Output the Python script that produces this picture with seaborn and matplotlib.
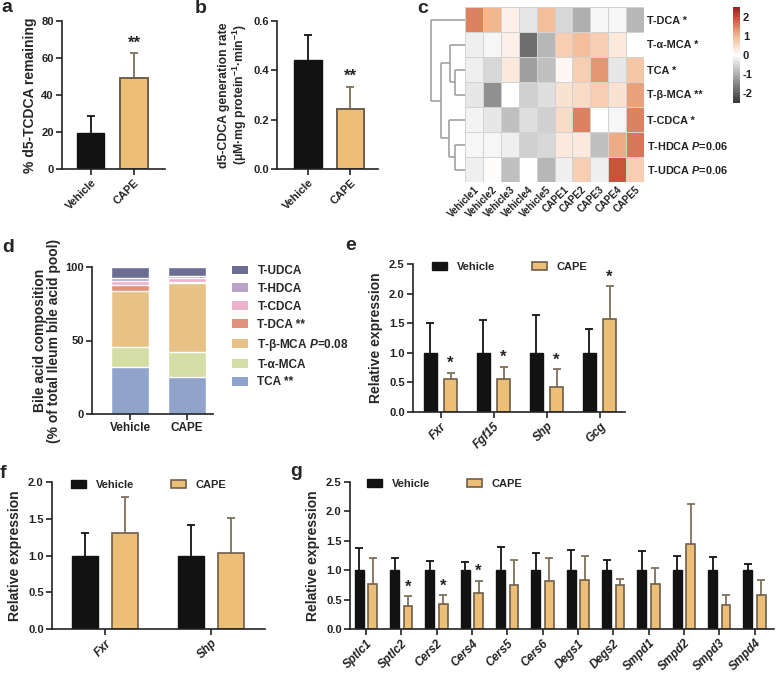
import numpy as np
import pandas as pd
import matplotlib
matplotlib.use('Agg')
import matplotlib.pyplot as plt
import seaborn as sns
from matplotlib.colors import LinearSegmentedColormap
from matplotlib.patches import Patch
from matplotlib.ticker import FormatStrFormatter

# ---------------- data ----------------
groups = ['Vehicle', 'CAPE']

# panel a
a_mean = [19.5, 49.0]
a_top = [28.5, 62.5]
# panel b
b_mean = [0.44, 0.245]
b_top = [0.545, 0.332]

# panel c (heatmap, z-scores)
heat_rows = ['T-DCA', 'T-α-MCA', 'TCA', 'T-β-MCA', 'T-CDCA', 'T-HDCA', 'T-UDCA']
heat_row_labels = ['T-DCA *', 'T-α-MCA *', 'TCA *', 'T-β-MCA **', 'T-CDCA *',
                   'T-HDCA $\\mathit{P}$=0.06', 'T-UDCA $\\mathit{P}$=0.06']
heat_cols = ['Vehicle1', 'Vehicle2', 'Vehicle3', 'Vehicle4', 'Vehicle5',
             'CAPE1', 'CAPE2', 'CAPE3', 'CAPE4', 'CAPE5']
heat_tdca = [1.5, 1.0, 0.2, -0.3, 0.9, -0.5, -1.0, -0.1, -0.1, -0.9]
heat_tamca = [-0.2, -0.1, 0.2, -1.8, -0.9, 0.7, 0.9, 0.7, 0.3, 0.0]
heat_tca = [-0.2, -0.5, 0.3, -1.2, -0.8, 0.1, 0.7, 1.3, -0.3, 0.8]
heat_tbmca = [-0.3, -1.4, 0.0, -0.6, -0.4, 0.4, 0.5, 0.7, 0.4, 1.2]
heat_tcdca = [-0.15, -0.3, -0.8, -0.4, -0.6, 0.5, 1.5, 0.0, -0.1, 1.5]
heat_thdca = [-0.1, -0.1, -0.2, -0.6, -0.5, 0.3, 0.3, -0.8, 1.1, 1.6]
heat_tudca = [-0.2, 0.05, -0.8, 0.0, -0.9, -0.2, 0.7, -0.2, 1.9, 0.7]
# row clustering: (child_i, child_j, merge height)
heat_linkage = [(2, 3, 10), (5, 6, 10), (1, 7, 15), (4, 8, 16), (9, 10, 23), (0, 11, 33)]

# panel d (stacked composition, bottom -> top)
d_species = ['TCA', 'T-α-MCA', 'T-β-MCA', 'T-DCA', 'T-CDCA', 'T-HDCA', 'T-UDCA']
d_labels = ['TCA **', 'T-α-MCA', 'T-β-MCA $\\mathit{P}$=0.08', 'T-DCA **', 'T-CDCA', 'T-HDCA', 'T-UDCA']
d_vehicle = [32.0, 13.5, 38.5, 3.5, 3.0, 2.0, 7.5]
d_cape = [25.5, 17.0, 46.3, 0.8, 3.0, 1.3, 6.1]
d_colors = ['#8FA3CB', '#D3DDA4', '#E8C187', '#E2917B', '#EDB3CC', '#B8A2C8', '#6B6D92']

# panel e
e_genes = ['Fxr', 'Fgf15', 'Shp', 'Gcg']
e_veh = [1.0, 1.0, 1.0, 1.0]
e_veh_top = [1.51, 1.55, 1.64, 1.40]
e_cape = [0.55, 0.55, 0.43, 1.57]
e_cape_top = [0.66, 0.76, 0.72, 2.12]
e_sig = ['*', '*', '*', '*']

# panel f
f_genes = ['Fxr', 'Shp']
f_veh = [1.0, 1.0]
f_veh_top = [1.31, 1.41]
f_cape = [1.31, 1.03]
f_cape_top = [1.80, 1.51]
f_sig = ['', '']

# panel g
g_genes = ['Sptlc1', 'Sptlc2', 'Cers2', 'Cers4', 'Cers5', 'Cers6',
           'Degs1', 'Degs2', 'Smpd1', 'Smpd2', 'Smpd3', 'Smpd4']
g_veh = [1.0] * 12
g_veh_top = [1.38, 1.20, 1.16, 1.14, 1.40, 1.30, 1.34, 1.18, 1.33, 1.25, 1.22, 1.10]
g_cape = [0.77, 0.39, 0.43, 0.62, 0.75, 0.82, 0.84, 0.74, 0.76, 1.44, 0.41, 0.58]
g_cape_top = [1.21, 0.56, 0.57, 0.82, 1.18, 1.21, 1.25, 0.85, 1.03, 2.13, 0.58, 0.84]
g_sig = ['', '*', '*', '*', '', '', '', '', '', '', '', '']

# ---------------- style ----------------
VEH = '#121212'
CAPE = '#EDBE78'
CAPE_EDGE = '#6E6048'
CAPE_ERR = '#7E705A'
DENDRO = '#9a9a9a'

sns.set_theme(style='ticks')
plt.rcParams.update({
    'font.family': ['Liberation Sans', 'DejaVu Sans'],
    'font.weight': 'bold',
    'axes.labelweight': 'bold',
    'axes.linewidth': 1.2,
    'axes.edgecolor': '#222222',
    'xtick.major.width': 1.2,
    'ytick.major.width': 1.2,
    'xtick.major.size': 4,
    'ytick.major.size': 4,
    'xtick.color': '#222222',
    'ytick.color': '#222222',
    'xtick.labelsize': 8,
    'ytick.labelsize': 8,
    'axes.labelsize': 10,
    'axes.unicode_minus': False,
    'mathtext.fontset': 'custom',
    'mathtext.rm': 'Liberation Sans:bold',
    'mathtext.bf': 'Liberation Sans:bold',
    'mathtext.sf': 'Liberation Sans:bold',
    'mathtext.it': 'Liberation Sans:italic:bold',
    'mathtext.default': 'bf',
})

W, H = 776, 674
fig = plt.figure(figsize=(W / 100, H / 100), dpi=100)


def ax_px(l, t, r, b):
    return fig.add_axes([l / W, 1 - b / H, (r - l) / W, (b - t) / H])


def letter(x, y, s):
    fig.text(x / W, 1 - y / H, s, fontsize=14, fontweight='bold', va='baseline', ha='left')


def style_axes(ax):
    sns.despine(ax=ax)
    ax.tick_params(axis='both', direction='out', pad=2)


def errbars(ax, container, tops, color):
    xs = [p.get_x() + p.get_width() / 2 for p in container]
    hs = [p.get_height() for p in container]
    up = [t - h for t, h in zip(tops, hs)]
    eb = ax.errorbar(xs, hs, yerr=[[0] * len(hs), up], fmt='none', ecolor=color,
                     elinewidth=1.3, capsize=3.2, capthick=1.3, zorder=1)
    caps = eb[1]
    if len(caps) == 2:
        caps[0].set_visible(False)
    return xs


def simple_bars(ax, means, tops, width):
    df = pd.DataFrame({'group': groups, 'value': means})
    sns.barplot(data=df, x='group', y='value', hue='group', hue_order=groups,
                palette={'Vehicle': VEH, 'CAPE': CAPE}, width=width, saturation=1,
                errorbar=None, legend=False, ax=ax, zorder=2)
    patches = list(ax.patches)
    patches[0].set_edgecolor(VEH)
    patches[1].set_edgecolor(CAPE_EDGE)
    patches[1].set_linewidth(1.4)
    errbars(ax, [patches[0]], [tops[0]], VEH)
    errbars(ax, [patches[1]], [tops[1]], CAPE_ERR)
    return patches


def grouped_bars(ax, genes, veh, veh_top, cape, cape_top, sig, star_off):
    n = len(genes)
    df = pd.DataFrame({'gene': genes * 2, 'group': ['Vehicle'] * n + ['CAPE'] * n,
                       'value': veh + cape})
    sns.barplot(data=df, x='gene', y='value', hue='group', hue_order=groups,
                palette={'Vehicle': VEH, 'CAPE': CAPE}, width=0.76, gap=0.34,
                saturation=1, errorbar=None, legend=False, ax=ax, zorder=2)
    cv, cc = ax.containers[0], ax.containers[1]
    for p in cv:
        p.set_edgecolor(VEH)
    for p in cc:
        p.set_edgecolor(CAPE_EDGE)
        p.set_linewidth(1.2)
    errbars(ax, cv, veh_top, VEH)
    xs = errbars(ax, cc, cape_top, CAPE_ERR)
    for x, t, s in zip(xs, cape_top, sig):
        if s:
            ax.text(x, t + star_off, s, ha='center', va='bottom', fontsize=12, fontweight='bold')
    ax.set_xlabel('')
    ax.set_ylabel('Relative expression')
    ax.yaxis.set_major_formatter(FormatStrFormatter('%.1f'))
    for lab in ax.get_xticklabels():
        lab.set_rotation(45)
        lab.set_ha('right')
        lab.set_rotation_mode('anchor')
        lab.set_fontstyle('italic')
        lab.set_fontsize(8.5)
    style_axes(ax)


def group_legend(x, y):
    handles = [Patch(facecolor=VEH, edgecolor=VEH, label='Vehicle'),
               Patch(facecolor=CAPE, edgecolor=CAPE_EDGE, linewidth=1.2, label='CAPE')]
    fig.legend(handles=handles, loc='center left', bbox_to_anchor=(x / W, 1 - y / H),
               bbox_transform=fig.transFigure, ncol=2, frameon=False, fontsize=8,
               handlelength=1.35, handleheight=0.7, handletextpad=0.9,
               columnspacing=3.3, borderpad=0, borderaxespad=0)


# ---------------- panel a ----------------
ax_a = ax_px(62, 21, 165, 169)
simple_bars(ax_a, a_mean, a_top, 0.63)
ax_a.set_xlim(-0.67, 1.72)
ax_a.set_ylim(0, 80)
ax_a.set_yticks([0, 20, 40, 60, 80])
ax_a.text(1, a_top[1] + 1.5, '**', ha='center', va='bottom', fontsize=12, fontweight='bold')
ax_a.set_xlabel('')
ax_a.set_ylabel('% d5-TCDCA remaining', labelpad=3)
for lab in ax_a.get_xticklabels():
    lab.set_rotation(45); lab.set_ha('right'); lab.set_rotation_mode('anchor')
style_axes(ax_a)
letter(1, 12, 'a')

# ---------------- panel b ----------------
ax_b = ax_px(277, 21, 378, 169)
simple_bars(ax_b, b_mean, b_top, 0.65)
ax_b.set_xlim(-0.73, 1.65)
ax_b.set_ylim(0, 0.6)
ax_b.set_yticks([0, 0.2, 0.4, 0.6])
ax_b.yaxis.set_major_formatter(FormatStrFormatter('%.1f'))
ax_b.text(1, b_top[1] + 0.012, '**', ha='center', va='bottom', fontsize=12, fontweight='bold')
ax_b.set_xlabel('')
ax_b.set_ylabel('d5-CDCA generation rate\n(μM·mg protein$^{-1}$·min$^{-1}$)', labelpad=3,
                linespacing=1.05, fontsize=8.8)
for lab in ax_b.get_xticklabels():
    lab.set_rotation(45); lab.set_ha('right'); lab.set_rotation_mode('anchor')
style_axes(ax_b)
letter(195, 13, 'b')

# ---------------- panel c ----------------
heat_df = pd.DataFrame([heat_tdca, heat_tamca, heat_tca, heat_tbmca, heat_tcdca, heat_thdca, heat_tudca],
                       index=heat_rows, columns=heat_cols)
cmap = LinearSegmentedColormap.from_list('og', [(0.0, '#363636'), (0.25, '#9c9c9c'), (0.5, '#ffffff'),
                                                (0.7, '#F3B890'), (0.88, '#C9563A'), (1.0, '#9E1B20')])
ax_c = ax_px(465, 7, 644, 182)
cax = ax_px(733, 7, 740, 103)
sns.heatmap(heat_df, ax=ax_c, cmap=cmap, vmin=-2.5, vmax=2.5, cbar_ax=cax,
            linewidths=0.7, linecolor='#d2d2d2')
ax_c.yaxis.tick_right()
ax_c.set_yticks(np.arange(len(heat_rows)) + 0.5)
ax_c.set_yticklabels(heat_row_labels, rotation=0, fontsize=7.8, fontweight='bold')
ax_c.set_xticks(np.arange(len(heat_cols)) + 0.5)
ax_c.set_xticklabels(heat_cols, rotation=45, ha='right', rotation_mode='anchor', fontsize=7)
ax_c.tick_params(length=0, pad=2)
ax_c.set_xlabel(''); ax_c.set_ylabel('')
cbar = ax_c.collections[0].colorbar
cbar.set_ticks([-2, -1, 0, 1, 2])
cbar.ax.tick_params(length=0, labelsize=8, pad=2)
cbar.outline.set_visible(False)

ax_dn = ax_px(430, 7, 465, 182)
ax_dn.set_ylim(len(heat_rows), 0)
ax_dn.set_xlim(34, 0)
pos = {i: i + 0.5 for i in range(len(heat_rows))}
hgt = {i: 0.0 for i in range(len(heat_rows))}
for k, (i, j, h) in enumerate(heat_linkage):
    for c in (i, j):
        ax_dn.plot([hgt[c], h], [pos[c], pos[c]], color=DENDRO, lw=1.1, solid_capstyle='butt')
    ax_dn.plot([h, h], [pos[i], pos[j]], color=DENDRO, lw=1.1, solid_capstyle='butt')
    pos[len(heat_rows) + k] = (pos[i] + pos[j]) / 2
    hgt[len(heat_rows) + k] = h
ax_dn.axis('off')
letter(417, 13, 'c')

# ---------------- panel d ----------------
ax_d = ax_px(92, 267, 213, 414)
for k in range(len(d_species) - 1, -1, -1):
    cum = [sum(d_vehicle[:k + 1]), sum(d_cape[:k + 1])]
    sns.barplot(x=groups, y=cum, color=d_colors[k], width=0.67, saturation=1,
                errorbar=None, ax=ax_d, zorder=2)
ax_d.set_xlim(-0.67, 1.46)
ax_d.set_ylim(0, 100)
ax_d.set_yticks([0, 50, 100])
ax_d.set_xlabel('')
ax_d.set_ylabel('Bile acid composition\n(% of total Ileum bile acid pool)', labelpad=3, linespacing=1.0)
ax_d.tick_params(axis='x', labelsize=8.5)
style_axes(ax_d)
d_handles = [Patch(facecolor=c, edgecolor='none', label=l) for c, l in zip(d_colors, d_labels)][::-1]
fig.legend(handles=d_handles, loc='upper left', bbox_to_anchor=(232 / W, 1 - 265 / H),
           bbox_transform=fig.transFigure, frameon=False, fontsize=8.5,
           handlelength=1.35, handleheight=0.75, handletextpad=0.8, labelspacing=0.5,
           borderpad=0, borderaxespad=0)
letter(2, 252, 'd')

# ---------------- panel e ----------------
ax_e = ax_px(413, 264, 625, 412)
grouped_bars(ax_e, e_genes, e_veh, e_veh_top, e_cape, e_cape_top, e_sig, 0.03)
ax_e.set_xlim(-0.52, 3.48)
ax_e.set_ylim(0, 2.5)
ax_e.set_yticks([0, 0.5, 1.0, 1.5, 2.0, 2.5])
group_legend(432, 267)
letter(345, 250, 'e')

# ---------------- panel f ----------------
ax_f = ax_px(52, 482, 265, 629)
grouped_bars(ax_f, f_genes, f_veh, f_veh_top, f_cape, f_cape_top, f_sig, 0.03)
ax_f.set_xlim(-0.5, 1.51)
ax_f.set_ylim(0, 2.0)
ax_f.set_yticks([0, 0.5, 1.0, 1.5, 2.0])
group_legend(71, 485)
letter(0, 478, 'f')

# ---------------- panel g ----------------
ax_g = ax_px(350, 482, 774, 629)
grouped_bars(ax_g, g_genes, g_veh, g_veh_top, g_cape, g_cape_top, g_sig, 0.03)
ax_g.set_xlim(-0.45, 11.55)
ax_g.set_ylim(0, 2.5)
ax_g.set_yticks([0, 0.5, 1.0, 1.5, 2.0, 2.5])
group_legend(367, 484)
letter(290, 476, 'g')

fig.savefig('out.png', dpi=100)
